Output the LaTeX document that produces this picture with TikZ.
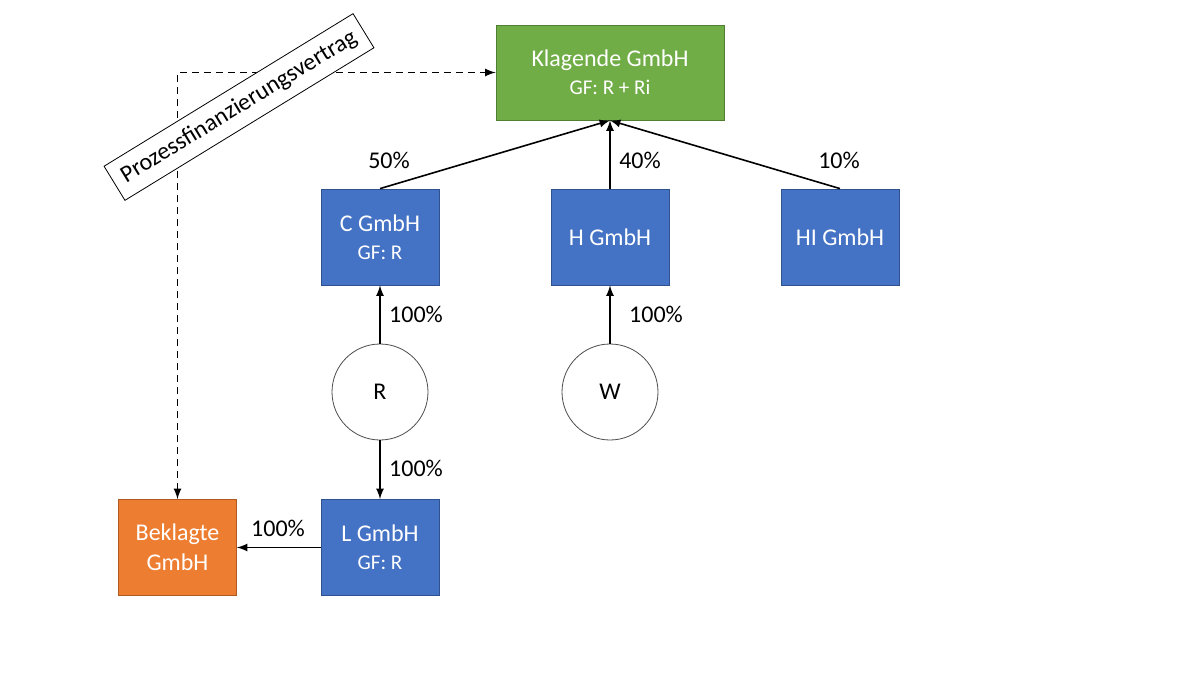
\documentclass[tikz,border=0pt]{standalone}
\usepackage{fontspec}
\setmainfont{Carlito}
\definecolor{kgreen}{HTML}{70AD47}
\definecolor{kgreenb}{HTML}{507E32}
\definecolor{kblue}{HTML}{4472C4}
\definecolor{kblueb}{HTML}{2F528F}
\definecolor{korange}{HTML}{ED7D31}
\definecolor{korangeb}{HTML}{AE5A21}
\begin{document}
\begin{tikzpicture}
			[x=0.5pt,y=-0.5pt,>=latex,
			box/.style={rectangle,draw=kblueb,fill=kblue,text=white,minimum width=59pt,minimum height=48pt,align=center,font=\fontsize{12}{15}\selectfont},
			pers/.style={circle,draw=black!70,fill=white,minimum size=48pt,font=\fontsize{12}{14}\selectfont},
			pct/.style={font=\fontsize{12}{14}\selectfont}]
			\useasboundingbox (0,0) rectangle (1200,675);
			\node[box,name=kl,fill=kgreen,draw=kgreenb,minimum width=114pt,minimum height=47.5pt] at (610,72.5){Klagende GmbH\\[-1pt]{\fontsize{10.5}{12}\selectfont GF: R + Ri}};
			\node[box,name=c] at (380,237){C GmbH\\[-1pt]{\fontsize{10.5}{12}\selectfont GF: R}};
			\node[box,name=h] at (610,237){H GmbH};
			\node[box,name=hi] at (840,237){HI GmbH};
			\node[pers,name=r] at (380,392){R};
			\node[pers,name=w] at (610,392){W};
			\node[box,name=l] at (380,547.5){L GmbH\\[-1pt]{\fontsize{10.5}{12}\selectfont GF: R}};
			\node[box,name=bk,fill=korange,draw=korangeb] at (177.5,547.5){Beklagte\\GmbH};
			\draw[->,thick](c.north) -- (kl.south);
			\draw[->,thick](h.north) -- (kl.south);
			\draw[->,thick](hi.north) -- (kl.south);
			\draw[->,thick](r.north) -- (c.south);
			\draw[->,thick](w.north) -- (h.south);
			\draw[->,thick](r.south) -- (l.north);
			\draw[->,thick](l.west) -- (bk.east);
			\draw[<->,thick,dash pattern=on 3.5pt off 2.5pt](bk.north) |- (kl.west);
			\node[pct,name=p1] at (389,160){50\%};
			\node[pct,name=p2] at (640,160){40\%};
			\node[pct,name=p3] at (839,160){10\%};
			\node[pct,name=p4] at (416,314){100\%};
			\node[pct,name=p5] at (656,314){100\%};
			\node[pct,name=p6] at (416,468){100\%};
			\node[pct,name=p7] at (278,528){100\%};
			\node[draw,fill=white,rotate=31.5,minimum height=20pt,inner xsep=5pt,name=pfv,font=\fontsize{12}{14}\selectfont] at (239,107){Prozessfinanzierungsvertrag};
		\end{tikzpicture}
\end{document}
